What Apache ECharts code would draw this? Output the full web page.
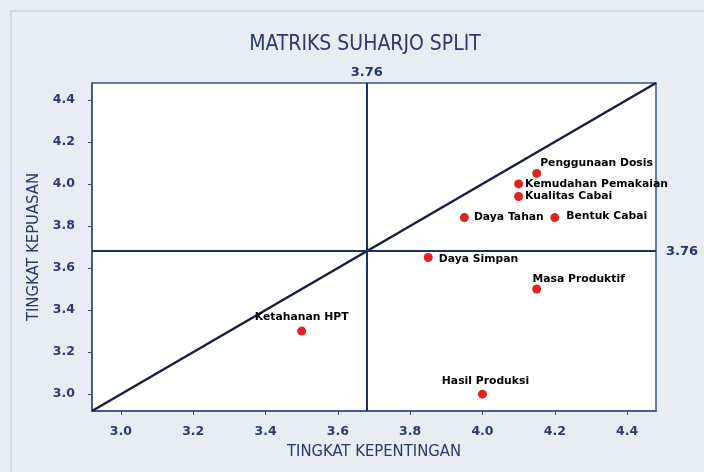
<!DOCTYPE html>
<html>
<head>
<meta charset="utf-8">
<script src="https://cdn.jsdelivr.net/npm/echarts@6/dist/echarts.min.js"></script>
<style>
html,body{margin:0;padding:0;background:#eef2f6;}
#chart{width:704px;height:472px;}
</style>
</head>
<body>
<div id="chart"></div>
<script>
// ---- data ----
var attributes = ['Penggunaan Dosis','Kemudahan Pemakaian','Kualitas Cabai','Daya Tahan','Bentuk Cabai','Daya Simpan','Masa Produktif','Ketahanan HPT','Hasil Produksi'];
var kepentingan = [4.15, 4.10, 4.10, 3.95, 4.20, 3.85, 4.15, 3.50, 4.00];
var kepuasan    = [4.05, 4.00, 3.94, 3.84, 3.84, 3.65, 3.50, 3.30, 3.00];
var tickValues  = [3.0, 3.2, 3.4, 3.6, 3.8, 4.0, 4.2, 4.4];
var axisMin = 2.92, axisMax = 4.48;
var splitX = 3.68, splitY = 3.68;
var splitLabel = '3.76';
var titleText = 'MATRIKS SUHARJO SPLIT';
var xName = 'TINGKAT KEPENTINGAN', yName = 'TINGKAT KEPUASAN';

// label placement (layout only)
var labelPlace = {
  'Penggunaan Dosis':   {position:'right', offset:[-6,-10]},
  'Kemudahan Pemakaian':{position:'right', offset:[-3,0]},
  'Kualitas Cabai':     {position:'right', offset:[-3,0]},
  'Daya Tahan':         {position:'right', offset:[0,0]},
  'Bentuk Cabai':       {position:'right', offset:[2,-1]},
  'Daya Simpan':        {position:'right', offset:[1,2]},
  'Masa Produktif':     {position:'top', offset:[42,5]},
  'Ketahanan HPT':      {position:'top', offset:[0,1]},
  'Hasil Produksi':     {position:'top', offset:[3,2]}
};

var points = attributes.map(function(n,i){
  var lp = labelPlace[n];
  return {name:n, value:[kepentingan[i], kepuasan[i]], label:{position:lp.position, offset:lp.offset}};
});

var navy = '#2b3b6b';
var condensed = 'Liberation Sans Narrow, DejaVu Sans Condensed, sans-serif';
var chart = echarts.init(document.getElementById('chart'), null, {renderer:'canvas'});
chart.setOption({
  animation:false,
  backgroundColor:'#e7edf3',
  graphic:[{type:'rect', shape:{x:11,y:11,width:720,height:470}, style:{fill:'none', stroke:'#b9c6d3', lineWidth:1}, silent:true}],
  title:{text:titleText, left:360, top:29, textAlign:'center',
    textStyle:{fontFamily:condensed, fontWeight:'normal', fontSize:21, color:'#2a3a6c'}},
  grid:{left:92, right:48, top:83, bottom:61, show:true, backgroundColor:'#ffffff', borderColor:'#3d5283', borderWidth:1.5},
  xAxis:{type:'value', min:axisMin, max:axisMax,
    name:xName, nameLocation:'middle', nameGap:31,
    nameTextStyle:{fontFamily:condensed, fontSize:16.5, color:'#28386a'},
    axisLine:{show:true, lineStyle:{color:'#3d5283', width:1.5}},
    axisTick:{show:true, length:4, customValues:tickValues, lineStyle:{color:'#3d5283'}},
    axisLabel:{customValues:tickValues, margin:14, fontFamily:'DejaVu Sans', fontWeight:'bold', fontSize:12.5, color:navy,
      formatter:function(v){return v.toFixed(1);}},
    splitLine:{show:false}},
  yAxis:{type:'value', min:axisMin, max:axisMax,
    name:yName, nameLocation:'middle', nameGap:47, nameRotate:90,
    nameTextStyle:{fontFamily:condensed, fontSize:16.5, color:'#28386a'},
    axisLine:{show:true, lineStyle:{color:'#3d5283', width:1.5}},
    axisTick:{show:true, length:4, customValues:tickValues, lineStyle:{color:'#3d5283'}},
    axisLabel:{customValues:tickValues, margin:17, fontFamily:'DejaVu Sans', fontWeight:'bold', fontSize:12.5, color:navy,
      formatter:function(v){return v.toFixed(1);}},
    splitLine:{show:false}},
  series:[
    {type:'line', data:[[axisMin,axisMin],[axisMax,axisMax]], symbol:'none', silent:true,
      lineStyle:{color:'#16203a', width:2.5}, z:2,
      markLine:{symbol:'none', silent:true, animation:false,
        lineStyle:{color:'#1f2f5e', width:2, type:'solid'},
        data:[
          {xAxis:splitX, label:{show:true, position:'end', formatter:splitLabel, color:'#22346a', fontFamily:'DejaVu Sans', fontWeight:'bold', fontSize:13, distance:4}},
          {yAxis:splitY, label:{show:true, position:'end', formatter:splitLabel, color:'#22346a', fontFamily:'DejaVu Sans', fontWeight:'bold', fontSize:13, distance:10}}
        ]}},
    {type:'scatter', data:points, symbol:'circle', symbolSize:9, z:5,
      itemStyle:{color:'#e0241f', opacity:1},
      label:{show:true, formatter:'{b}', fontFamily:'DejaVu Sans', fontWeight:'bold', fontSize:10.8, color:'#000000', distance:5}}
  ]
});
</script>
</body>
</html>
